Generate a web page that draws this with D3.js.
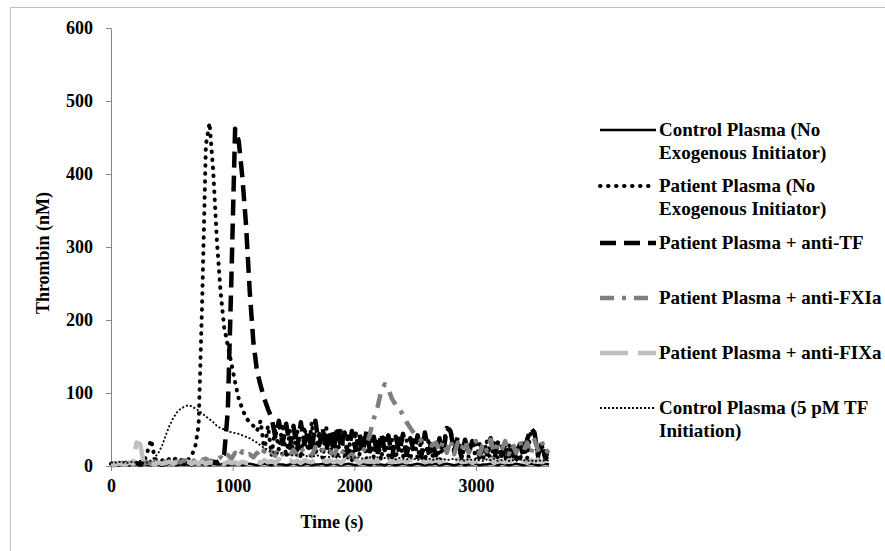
<!DOCTYPE html>
<html>
<head>
<meta charset="utf-8">
<script src="https://cdn.jsdelivr.net/npm/d3@7/dist/d3.min.js"></script>
<style>
  body { margin: 0; background: #fff; }
  svg text { font-family: "Liberation Serif", "Times New Roman", serif; font-weight: bold; fill: #000; }
</style>
</head>
<body>
<svg id="chart" width="885" height="551"></svg>
<script>
// sample times (s), one reading every 30 s from 0 to 3600
const timeS = d3.range(0, 3601, 30);

// thrombin (nM), 10 readings per row = 300 s per row
const controlNoExo = [
  1,2,1,3,2,1,2,3,1,2,
  2,1,3,2,1,2,3,2,1,2,
  3,2,1,2,3,2,2,1,3,2,
  2,3,1,2,2,3,1,2,3,2,
  1,2,3,2,1,3,2,2,1,2,
  3,2,1,2,3,1,2,2,3,1,
  2,3,2,1,2,3,2,1,2,3,
  2,1,3,2,2,1,3,2,1,2,
  3,2,1,2,3,2,1,2,2,3,
  1,2,3,2,1,2,3,1,2,2,
  3,1,2,2,3,2,1,3,2,1,
  2,3,2,1,2,3,2,1,2,3,
  2
];
const patientNoExo = [
  3,2,4,3,5,2,4,3,6,4,
  20,36,10,6,8,5,10,7,12,9,
  6,8,14,24,55,230,440,470,405,310,
  240,190,165,140,115,92,78,66,60,55,
  48,62,20,55,15,52,22,58,12,48,
  18,50,10,54,20,60,14,48,10,52,
  15,46,10,50,12,44,8,48,14,40,
  10,44,12,38,8,42,14,36,10,40,
  12,35,8,40,10,36,6,38,12,32,
  8,36,45,52,20,34,8,32,12,36,
  8,30,10,34,6,32,10,28,8,30,
  10,28,6,32,10,48,44,12,30,8,
  16
];
const antiTF = [
  2,3,2,4,3,2,3,4,2,3,
  3,2,4,3,2,3,5,3,2,4,
  3,4,3,5,4,3,5,4,6,5,
  8,15,75,260,462,445,395,330,240,170,
  130,110,92,78,66,40,62,30,58,25,
  55,22,60,30,50,18,62,28,52,20,
  50,20,55,25,46,15,48,22,45,18,
  48,20,40,15,45,22,42,12,40,18,
  44,15,38,20,42,12,46,18,36,14,
  38,16,52,48,20,40,12,36,18,34,
  30,12,34,16,38,10,32,14,30,12,
  32,10,30,14,36,52,46,14,32,10,
  28
];
const antiFXIa = [
  2,1,3,2,4,2,3,2,4,3,
  5,3,6,4,8,5,7,4,6,5,
  8,5,10,6,12,8,10,6,9,7,
  12,8,15,10,18,12,20,14,16,12,
  18,12,22,15,20,14,24,16,20,14,
  22,15,25,18,20,14,26,18,22,16,
  20,14,24,16,22,12,16,10,14,20,
  28,45,65,80,102,112,105,92,84,78,
  70,60,52,45,40,35,32,30,28,32,
  20,34,18,36,16,32,22,35,18,30,
  34,16,32,20,36,18,30,22,34,16,
  30,18,34,20,32,16,36,22,34,18,
  22
];
const antiFIXa = [
  3,2,4,3,2,5,3,32,30,4,
  3,4,2,5,3,4,6,3,5,4,
  4,6,3,5,4,6,3,5,4,6,
  5,3,6,4,5,3,6,4,5,7,
  6,4,8,5,7,4,9,5,6,8,
  5,7,4,8,6,5,9,4,7,6,
  8,5,7,4,9,6,5,8,4,7,
  6,8,5,7,4,9,6,5,8,6,
  7,5,9,6,4,8,5,7,6,9,
  5,8,6,4,7,9,5,6,8,4,
  7,5,8,6,9,4,7,6,5,8,
  6,9,5,7,4,8,6,9,5,7,
  6
];
const control5pM = [
  5,4,6,5,4,5,6,4,5,4,
  5,8,12,18,28,42,55,65,73,78,
  81,83,82,79,76,72,68,64,60,55,
  52,50,48,46,45,44,42,40,38,35,
  32,28,25,22,20,18,17,18,15,16,
  14,15,13,16,12,14,13,15,12,13,
  12,14,11,13,12,10,13,11,12,10,
  11,12,10,12,9,11,10,12,9,11,
  10,9,11,10,8,10,9,11,8,10,
  9,10,8,9,10,8,9,7,10,8,
  9,8,7,9,8,10,7,8,9,7,
  8,7,9,8,7,8,6,8,7,8,
  7
];

const seriesLabels = [
  ["Control Plasma (No", "Exogenous Initiator)"],
  ["Patient Plasma (No", "Exogenous Initiator)"],
  ["Patient Plasma + anti-TF"],
  ["Patient Plasma + anti-FXIa"],
  ["Patient Plasma + anti-FIXa"],
  ["Control Plasma (5 pM TF", "Initiation)"]
];
const yTicks = [0, 100, 200, 300, 400, 500, 600];
const xTicks = [0, 1000, 2000, 3000];

const seriesValues = [controlNoExo, patientNoExo, antiTF, antiFXIa, antiFIXa, control5pM];

// line looks
const looks = [
  { color: "#000", width: 2.5, dash: null, cap: "butt" },
  { color: "#000", width: 4, dash: "0.5,7.5", cap: "round" },
  { color: "#000", width: 4.5, dash: "16,8", cap: "butt" },
  { color: "#7f7f7f", width: 4.5, dash: "14,8,4,8", cap: "butt" },
  { color: "#bfbfbf", width: 4.5, dash: "28,10", cap: "butt" },
  { color: "#000", width: 1.8, dash: "2,2", cap: "butt" }
];

const svg = d3.select("#chart");

// outer frame (only its top and left edges fall inside the picture)
svg.append("rect").attr("x", 10.5).attr("y", 7.5).attr("width", 1000).attr("height", 1000)
  .attr("fill", "none").attr("stroke", "#bfbfbf").attr("stroke-width", 1);

const x = d3.scaleLinear().domain([0, 3600]).range([111, 549]);
const y = d3.scaleLinear().domain([0, 600]).range([466, 28]);

// axes
const yAxis = svg.append("g").attr("transform", "translate(111,0)")
  .call(d3.axisLeft(y).tickValues(yTicks).tickSize(5).tickPadding(13).tickSizeOuter(0));
const xAxis = svg.append("g").attr("transform", "translate(0,466)")
  .call(d3.axisBottom(x).tickValues(xTicks).tickFormat(d3.format("d")).tickSize(5).tickPadding(8).tickSizeOuter(0));
[yAxis, xAxis].forEach(a => {
  a.select(".domain").attr("stroke", "#868686");
  a.selectAll(".tick line").attr("stroke", "#868686");
  a.selectAll(".tick text").style("font-size", "18px").attr("fill", "#000");
});

// series
const line = d3.line().x(d => x(d[0])).y(d => y(d[1]));
seriesValues.forEach((vals, i) => {
  const pts = timeS.map((t, k) => [t, vals[k]]).filter(d => d[1] != null);
  const lk = looks[i];
  svg.append("path").datum(pts)
    .attr("d", line)
    .attr("fill", "none")
    .attr("stroke", lk.color)
    .attr("stroke-width", lk.width)
    .attr("stroke-dasharray", lk.dash)
    .attr("stroke-linecap", lk.cap)
    .attr("stroke-linejoin", "round");
});

// axis titles
svg.append("text").attr("transform", "translate(49,253) rotate(-90)")
  .attr("text-anchor", "middle").style("font-size", "18px").text("Thrombin (nM)");
svg.append("text").attr("x", 332).attr("y", 528)
  .attr("text-anchor", "middle").style("font-size", "18px").text("Time (s)");

// legend
const legendY = [130, 186, 243, 298, 353, 408];
const legend = svg.append("g");
seriesLabels.forEach((lines, i) => {
  const lk = looks[i];
  const ly = legendY[i];
  legend.append("line").attr("x1", 600).attr("x2", 656).attr("y1", ly).attr("y2", ly)
    .attr("stroke", lk.color).attr("stroke-width", lk.width)
    .attr("stroke-dasharray", lk.dash).attr("stroke-linecap", lk.cap);
  const t = legend.append("text").attr("x", 659).attr("y", ly + 6).style("font-size", "19px");
  lines.forEach((s, j) => {
    t.append("tspan").attr("x", 659).attr("dy", j === 0 ? 0 : 23).text(s);
  });
});
</script>
</body>
</html>
